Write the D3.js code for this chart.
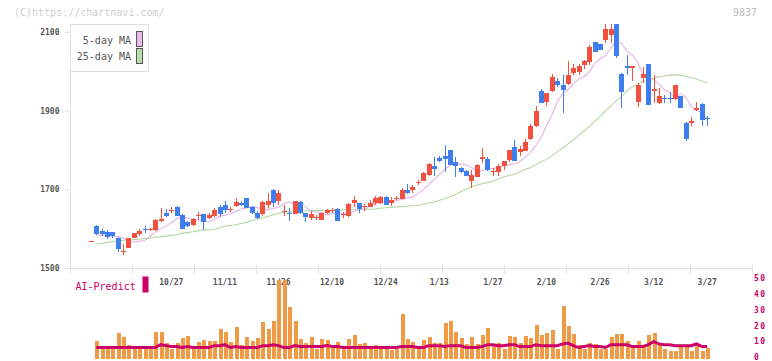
<!DOCTYPE html>
<html><head><meta charset="utf-8">
<script src="https://cdn.jsdelivr.net/npm/d3@7"></script>
<style>body{margin:0;background:#fff}svg{display:block}</style>
</head><body><svg id="c" width="772" height="361"></svg>
<script>
const opens=[1607,1595,1591,1591,1575,1542,1552,1577,1586,1598,
1598,1597,1619,1641,1646,1656,1635,1617,1610,1632,
1636,1628,1632,1654,1660,1649,1658,1666,1677,1656,
1641,1637,1660,1698,1671,1642,1640,1637,1668,1641,
1628,1629,1622,1641,1647,1651,1636,1631,1666,1665,
1656,1656,1666,1666,1681,1666,1677,1676,1698,1698,
1717,1722,1737,1758,1779,1785,1800,1770,1755,1747,
1722,1732,1777,1777,1744,1745,1760,1774,1807,1796,
1798,1828,1860,1950,1922,1949,1976,1965,1968,1995,
1999,2016,2023,2074,2069,2080,2091,2121,1994,2014,
2007,1923,1984,2019,1951,1918,1931,1931,1930,1937,
1868,1868,1902,1917,1881];
const highs=[1608,1598,1597,1592,1578,1560,1577,1590,1598,1606,
1602,1624,1652,1650,1656,1658,1636,1620,1628,1642,
1638,1640,1652,1661,1669,1656,1679,1670,1679,1657,
1645,1670,1690,1701,1698,1660,1653,1671,1670,1641,
1645,1635,1641,1651,1653,1652,1642,1664,1684,1666,
1663,1674,1682,1684,1682,1680,1683,1703,1714,1711,
1724,1745,1766,1781,1784,1813,1800,1781,1756,1748,
1749,1764,1806,1781,1753,1765,1773,1801,1826,1809,
1828,1866,1912,1955,1944,1992,1982,1991,2025,2018,
2018,2029,2067,2074,2069,2120,2120,2121,1995,2041,
2014,1969,2012,2019,1991,1957,1940,1947,1966,1938,
1870,1883,1922,1918,1885];
const lows=[1583,1581,1574,1576,1540,1532,1551,1576,1582,1589,
1593,1595,1617,1629,1640,1631,1600,1605,1606,1622,
1597,1624,1630,1630,1640,1643,1656,1658,1653,1637,
1624,1632,1652,1655,1660,1633,1620,1636,1636,1617,
1622,1622,1621,1637,1640,1620,1627,1630,1655,1639,
1646,1654,1660,1663,1660,1658,1674,1675,1688,1690,
1711,1720,1735,1734,1770,1745,1762,1732,1742,1735,
1704,1730,1768,1746,1735,1734,1750,1770,1771,1785,
1797,1826,1858,1918,1911,1947,1960,1894,1966,1990,
1991,2006,2015,2048,2053,2071,2072,2033,1906,1991,
1976,1910,1970,1913,1918,1916,1918,1919,1928,1906,
1823,1862,1898,1862,1860];
const closes=[1587,1586,1580,1582,1549,1544,1576,1589,1594,1596,
1600,1622,1624,1632,1648,1632,1600,1607,1625,1634,
1618,1635,1648,1636,1647,1651,1667,1660,1653,1639,
1626,1668,1670,1666,1690,1644,1638,1670,1639,1629,
1637,1630,1641,1647,1648,1620,1638,1663,1673,1651,
1658,1666,1677,1680,1661,1673,1679,1698,1690,1707,
1719,1741,1765,1752,1772,1777,1762,1758,1745,1735,
1737,1762,1783,1749,1746,1760,1771,1800,1773,1802,
1821,1861,1900,1920,1944,1985,1964,1953,1991,2008,
2014,2025,2061,2048,2053,2108,2108,2039,1946,2007,
2014,1964,1994,1913,1955,1938,1929,1929,1966,1906,
1827,1874,1907,1877,1879];
const priorClose=1568;
const volumes=[11.1,6.5,6.5,6.5,16.2,14.1,8.6,6.5,6.5,6.5,
6.5,16.8,16.8,9.9,6.1,9.9,13,14.3,6.5,10.5,
11.8,11.1,11.1,18.7,16.8,10.5,20,8.6,13.6,11.1,
13,23,18.7,23.7,50,50,32.5,23.7,12.4,9.9,
13.6,6.5,12.4,11.8,8.6,10.5,6.5,12.4,14.9,9.2,
9.9,6.5,8.6,6.5,6.5,5.5,6.5,28,12.4,10.5,
6.5,11.8,13.6,9.9,9.9,22.4,23.7,16.8,13,9.2,
13.6,9.2,14.9,19.4,9.2,9.9,6.5,14.3,13.6,9.9,
14.3,13,21.2,14.9,16.2,18,6.5,33.1,20.6,15.5,
8.6,6.5,9.9,9.2,6.5,6,13.6,15.5,15.5,11.1,
7.4,11.1,8.6,14.9,16.2,8.6,6,4.9,4.9,8,
8,4.9,9.9,4.9,6.7];
const aiPredict=[7.2,7.2,7.2,7.2,7.2,7.2,7.2,7.2,7.2,7.2,
7.2,7.2,9.0,8.4,7.8,7.8,7.2,7.8,7.2,7.2,
7.2,7.2,8.4,8.4,9.0,7.2,7.8,7.2,7.2,7.2,
7.2,8.4,8.4,9.0,8.4,7.2,7.2,8.4,7.8,7.8,
7.8,7.8,7.8,8.4,7.8,7.8,7.2,7.2,7.2,7.2,
7.2,7.2,7.2,7.2,7.2,7.2,7.2,7.8,7.8,7.8,
7.2,7.2,8.4,8.4,8.4,7.8,8.4,8.4,8.4,7.2,
7.2,7.2,7.8,9.0,9.0,8.4,8.4,9.0,9.0,7.8,
7.8,7.8,9.0,8.4,8.4,8.4,8.4,9.5,10.0,8.4,
7.2,7.8,8.4,7.8,7.8,7.2,9.0,9.0,9.0,9.0,
7.8,7.8,7.8,9.0,10.9,9.5,9.0,9.0,8.4,8.4,
8.4,8.4,9.5,7.8,7.8];
const ma5=[1584,1583,1582,1581,1580,1577,1568,1566,1568,1570,
1580,1591,1600,1607,1615,1625,1632,1627,1624,1622,
1620,1617,1624,1632,1634,1637,1643,1650,1652,1656,
1654,1649,1649,1651,1654,1664,1668,1662,1662,1656,
1644,1643,1641,1635,1637,1641,1637,1639,1643,1648,
1649,1657,1662,1665,1666,1668,1671,1674,1678,1680,
1689,1699,1711,1724,1737,1750,1761,1766,1764,1763,
1755,1747,1747,1752,1753,1755,1760,1762,1765,1770,
1781,1793,1811,1831,1861,1889,1922,1943,1953,1967,
1980,1986,1998,2020,2031,2040,2059,2076,2071,2051,
2042,2023,1994,1985,1978,1968,1953,1946,1933,1943,
1934,1911,1900,1896,1878];
const ma25=[1561,1563,1565,1567,1569,1570,1571,1572,1573,1575,
1576,1578,1579,1581,1583,1585,1588,1590,1592,1595,
1597,1597,1598,1602,1606,1608,1610,1613,1616,1620,
1624,1627,1631,1635,1639,1641,1643,1644,1645,1645,
1646,1646,1646,1646,1647,1647,1648,1648,1648,1649,
1649,1649,1650,1652,1653,1654,1655,1656,1657,1658,
1659,1662,1665,1667,1672,1676,1681,1687,1694,1700,
1706,1711,1714,1717,1720,1726,1731,1735,1738,1744,
1750,1755,1762,1770,1776,1785,1795,1805,1815,1825,
1837,1848,1860,1872,1885,1899,1912,1924,1936,1950,
1960,1967,1974,1978,1982,1986,1988,1990,1991,1990,
1988,1984,1980,1975,1970];
const priceTicks=[1500,1700,1900,2100];
const volTicks=[0,10,20,30,40,50];
const dateLabels=["10/27","11/11","11/26","12/10","12/24","1/13","1/27","2/10","2/26","3/12","3/27"];
const dateLabelIdx=[14,24,34,44,54,64,74,84,94,104,114];
const gridCount=11;

const svg=d3.select("#c");
const n=closes.length;
const x=d3.scaleLinear().domain([0,n-1]).range([96.3,707.2]);
const y=d3.scaleLinear().domain([1500,2120]).range([268,24]);
const yv=d3.scaleLinear().domain([0,50]).range([359,279.5]);
const xg=d3.scaleLinear().domain([0,gridCount]).range([70.5,752.5]);
const UP="#f2513f",DN="#3e7eef",MONO="'DejaVu Sans Mono',monospace";

// watermark
svg.append("text").attr("x",14).attr("y",15.5).attr("font-family",MONO).attr("font-size",10).attr("fill","#cfcfcf").text("(C)https://chartnavi.com/");
svg.append("text").attr("x",757).attr("y",15.5).attr("text-anchor","end").attr("font-family",MONO).attr("font-size",10).attr("fill","#bdbdbd").text("9837");

// axes
const ax=svg.append("g").attr("stroke","#e0e0e0").attr("fill","none").attr("shape-rendering","crispEdges");
ax.append("line").attr("x1",70.5).attr("x2",70.5).attr("y1",24).attr("y2",268.5);
ax.append("line").attr("x1",70).attr("x2",753).attr("y1",268.5).attr("y2",268.5);
ax.selectAll("line.gx").data(d3.range(gridCount+1)).enter().append("line")
  .attr("x1",d=>xg(d)).attr("x2",d=>xg(d)).attr("y1",265).attr("y2",273.5);

const yAxis=d3.axisLeft(y).tickValues(priceTicks).tickSize(6).tickPadding(5).tickFormat(d3.format("d"));
const ga=svg.append("g").attr("transform","translate(70.5,0)").call(yAxis);
ga.select(".domain").remove();
ga.selectAll("line").attr("stroke","#e0e0e0");
ga.selectAll("text").attr("font-family",MONO).attr("font-size",8).attr("font-weight","bold").attr("fill","#555");

// MA lines
const line=d3.line().x((d,i)=>x(i)).y(d=>y(d));
svg.append("path").datum(ma25).attr("d",line).attr("fill","none").attr("stroke","#b2d8a2").attr("stroke-width",1.1);
svg.append("path").datum(ma5).attr("d",line).attr("fill","none").attr("stroke","#e6b2e6").attr("stroke-width",1.1);

// candles
const cg=svg.append("g").attr("shape-rendering","crispEdges");
const idx=d3.range(n);
const col=i=>closes[i]>=opens[i]?UP:DN;
cg.selectAll("line.w").data(idx).enter().append("line")
  .attr("x1",i=>Math.round(x(i))+0.5).attr("x2",i=>Math.round(x(i))+0.5)
  .attr("y1",i=>y(highs[i])).attr("y2",i=>y(lows[i])).attr("stroke",col);
cg.selectAll("rect.b").data(idx).enter().append("rect")
  .attr("x",i=>Math.round(x(i))-2).attr("width",5)
  .attr("y",i=>y(Math.max(opens[i],closes[i])))
  .attr("height",i=>Math.max(1,Math.abs(y(opens[i])-y(closes[i]))))
  .attr("fill",col);
cg.append("line").attr("x1",Math.round(x(-1))-2).attr("x2",Math.round(x(-1))+3)
  .attr("y1",y(priorClose)).attr("y2",y(priorClose)).attr("stroke",UP);

// legend
svg.append("rect").attr("x",70.5).attr("y",24.5).attr("width",78).attr("height",47).attr("fill","#fff").attr("stroke","#e0e0e0");
const lg=[["5-day MA","#ecb8ec",44,31.5],["25-day MA","#b8dcaa",60,48.5]];
lg.forEach(([t,c,ty,ry])=>{
  svg.append("text").attr("x",131).attr("y",ty).attr("text-anchor","end").attr("font-family",MONO).attr("font-size",10).attr("fill","#555").text(t);
  svg.append("rect").attr("x",136.5).attr("y",ry).attr("width",6).attr("height",15).attr("fill",c).attr("stroke","#555");
});

// date labels
svg.selectAll("text.dl").data(dateLabels).enter().append("text")
  .attr("x",(d,k)=>x(dateLabelIdx[k])).attr("y",285).attr("text-anchor","middle")
  .attr("font-family",MONO).attr("font-size",8).attr("font-weight","bold").attr("fill","#555").text(d=>d);

// AI-Predict label
svg.append("text").attr("x",75.5).attr("y",289.5).attr("font-family",MONO).attr("font-size",10).attr("fill","#cc0066").text("AI-Predict");
svg.append("rect").attr("x",142.5).attr("y",276.5).attr("width",6).attr("height",16).attr("fill","#cc0066");

// volume axis labels
svg.selectAll("text.vl").data(volTicks).enter().append("text")
  .attr("x",754).attr("y",d=>yv(d)+1.3).attr("font-family",MONO).attr("font-size",8).attr("font-weight","bold")
  .attr("letter-spacing",1.5).attr("fill","#cc0066").text(d=>d);

// volume bars
svg.append("g").attr("shape-rendering","crispEdges").selectAll("rect").data(idx).enter().append("rect")
  .attr("x",i=>Math.round(x(i))-1.5).attr("width",4)
  .attr("y",i=>yv(volumes[i])).attr("height",i=>yv(0)-yv(volumes[i])).attr("fill","#f19a45");

// AI predict line
const vline=d3.line().x((d,i)=>x(i)).y(d=>yv(d));
svg.append("path").datum(aiPredict).attr("d",vline).attr("fill","none").attr("stroke","#cc0066").attr("stroke-width",3).attr("stroke-linejoin","miter");
</script></body></html>
